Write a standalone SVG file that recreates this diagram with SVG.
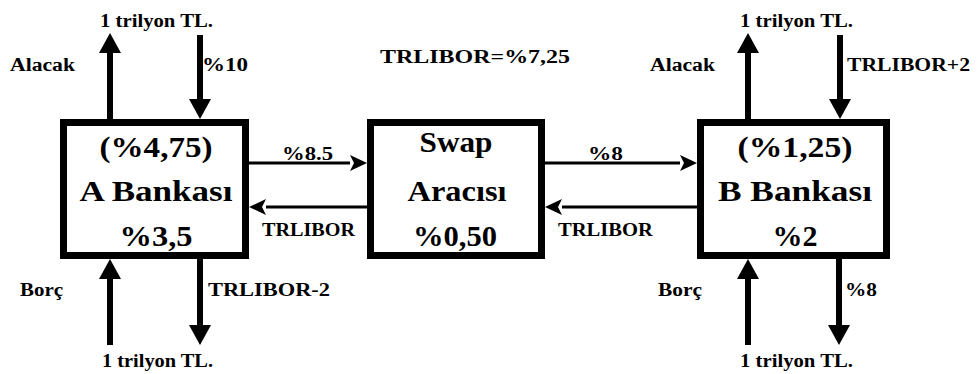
<svg xmlns="http://www.w3.org/2000/svg" width="978" height="374" viewBox="0 0 978 374">
<style>
.box{fill:#fff;stroke:#000;stroke-width:7}
.v{stroke:#000;stroke-width:6;fill:none}
.h{stroke:#000;stroke-width:3;fill:none}
.lbl{font-family:"Liberation Serif","Times New Roman",serif;font-weight:bold;font-size:18px;fill:#000}
.big{font-family:"Liberation Serif","Times New Roman",serif;font-weight:bold;font-size:30px;fill:#000;text-anchor:middle}
</style>
<defs>
<marker id="vh" markerUnits="userSpaceOnUse" markerWidth="20" markerHeight="22" refX="0" refY="11" orient="auto" viewBox="0 0 20 22">
<path d="M0,0 L20,11 L0,22 z" fill="#000"/>
</marker>
<marker id="hh" markerUnits="userSpaceOnUse" markerWidth="17" markerHeight="16" refX="0" refY="8" orient="auto" viewBox="0 0 17 16">
<path d="M0,0 L17,8 L0,16 L4,8 z" fill="#000"/>
</marker>
</defs>
<g id="connectors">
<line class="v" x1="110" y1="119" x2="110" y2="53" marker-end="url(#vh)"/>
<line class="v" x1="200" y1="35" x2="200" y2="99" marker-end="url(#vh)"/>
<line class="v" x1="110" y1="345" x2="110" y2="279" marker-end="url(#vh)"/>
<line class="v" x1="200" y1="259" x2="200" y2="325" marker-end="url(#vh)"/>
<line class="v" x1="748" y1="119" x2="748" y2="53" marker-end="url(#vh)"/>
<line class="v" x1="840" y1="35" x2="840" y2="99" marker-end="url(#vh)"/>
<line class="v" x1="748" y1="345" x2="748" y2="279" marker-end="url(#vh)"/>
<line class="v" x1="839" y1="259" x2="839" y2="325" marker-end="url(#vh)"/>
<line class="h" x1="249" y1="163" x2="350" y2="163" marker-end="url(#hh)"/>
<line class="h" x1="367" y1="207" x2="266" y2="207" marker-end="url(#hh)"/>
<line class="h" x1="545" y1="163" x2="680" y2="163" marker-end="url(#hh)"/>
<line class="h" x1="697" y1="207" x2="562" y2="207" marker-end="url(#hh)"/>
</g>
<g id="nodeA">
<rect class="box" x="63.5" y="122.5" width="182" height="133"/>
<text class="big" x="156" y="157" textLength="113" lengthAdjust="spacingAndGlyphs">(%4,75)</text>
<text class="big" x="156" y="201" textLength="153" lengthAdjust="spacingAndGlyphs">A Bankası</text>
<text class="big" x="156" y="246" textLength="73" lengthAdjust="spacingAndGlyphs">%3,5</text>
</g>
<g id="nodeSwap">
<rect class="box" x="370.5" y="122.5" width="171" height="133"/>
<text class="big" x="456" y="152" textLength="73" lengthAdjust="spacingAndGlyphs">Swap</text>
<text class="big" x="457" y="201" textLength="99" lengthAdjust="spacingAndGlyphs">Aracısı</text>
<text class="big" x="455" y="246" textLength="84" lengthAdjust="spacingAndGlyphs">%0,50</text>
</g>
<g id="nodeB">
<rect class="box" x="700.5" y="122.5" width="186" height="133"/>
<text class="big" x="795" y="157" textLength="115" lengthAdjust="spacingAndGlyphs">(%1,25)</text>
<text class="big" x="795" y="201" textLength="154" lengthAdjust="spacingAndGlyphs">B Bankası</text>
<text class="big" x="795" y="246" textLength="45" lengthAdjust="spacingAndGlyphs">%2</text>
</g>
<g id="labels">
<text class="lbl" x="100" y="27" textLength="113" lengthAdjust="spacingAndGlyphs">1 trilyon TL.</text>
<text class="lbl" x="10" y="71" textLength="65" lengthAdjust="spacingAndGlyphs">Alacak</text>
<text class="lbl" x="202" y="71" textLength="46" lengthAdjust="spacingAndGlyphs">%10</text>
<text class="lbl" x="380" y="63" textLength="190" lengthAdjust="spacingAndGlyphs">TRLIBOR=%7,25</text>
<text class="lbl" x="740" y="27" textLength="113" lengthAdjust="spacingAndGlyphs">1 trilyon TL.</text>
<text class="lbl" x="650" y="71" textLength="65" lengthAdjust="spacingAndGlyphs">Alacak</text>
<text class="lbl" x="847" y="71" textLength="123" lengthAdjust="spacingAndGlyphs">TRLIBOR+2</text>
<text class="lbl" x="282" y="160" textLength="51" lengthAdjust="spacingAndGlyphs">%8.5</text>
<text class="lbl" x="588" y="160" textLength="35" lengthAdjust="spacingAndGlyphs">%8</text>
<text class="lbl" x="262" y="236" textLength="93" lengthAdjust="spacingAndGlyphs">TRLIBOR</text>
<text class="lbl" x="558" y="236" textLength="95" lengthAdjust="spacingAndGlyphs">TRLIBOR</text>
<text class="lbl" x="20" y="296" textLength="43" lengthAdjust="spacingAndGlyphs">Borç</text>
<text class="lbl" x="208" y="296" textLength="122" lengthAdjust="spacingAndGlyphs">TRLIBOR-2</text>
<text class="lbl" x="102" y="367" textLength="111" lengthAdjust="spacingAndGlyphs">1 trilyon TL.</text>
<text class="lbl" x="658" y="296" textLength="44" lengthAdjust="spacingAndGlyphs">Borç</text>
<text class="lbl" x="845" y="296" textLength="32" lengthAdjust="spacingAndGlyphs">%8</text>
<text class="lbl" x="740" y="367" textLength="113" lengthAdjust="spacingAndGlyphs">1 trilyon TL.</text>
</g>
</svg>
